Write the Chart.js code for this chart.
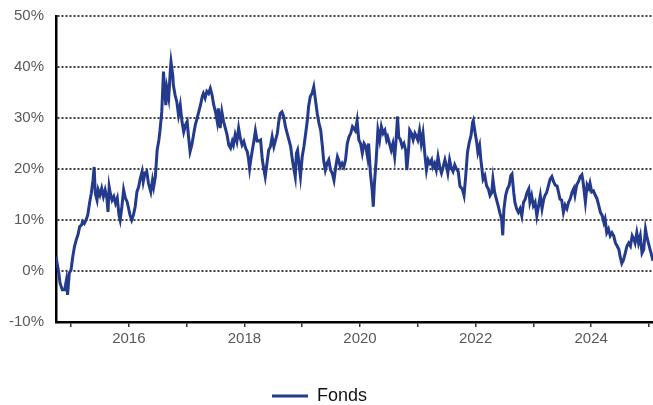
<!DOCTYPE html>
<html>
<head>
<meta charset="utf-8">
<script src="https://cdn.jsdelivr.net/npm/chart.js@4.4.1/dist/chart.umd.min.js"></script>
<style>
    html, body { margin: 0; padding: 0; background: #fff; }
    #wrap { width: 653px; height: 405px; position: relative; }
</style>
</head>
<body>
<div id="wrap"><canvas id="chart-fonds"></canvas></div>
<script>
// dates as decimal years, values in %
const dates = [
    2014.74, 2014.79, 2014.81, 2014.85, 2014.89, 2014.92, 2014.94, 2014.97, 2015.00, 2015.03,
    2015.06, 2015.09, 2015.12, 2015.15, 2015.18, 2015.20, 2015.23, 2015.26, 2015.29, 2015.32,
    2015.35, 2015.38, 2015.40, 2015.42, 2015.45, 2015.47, 2015.50, 2015.53, 2015.56, 2015.59,
    2015.62, 2015.64, 2015.66, 2015.68, 2015.71, 2015.74, 2015.77, 2015.80, 2015.83, 2015.85,
    2015.88, 2015.91, 2015.94, 2015.97, 2015.99, 2016.02, 2016.05, 2016.08, 2016.11, 2016.14,
    2016.17, 2016.20, 2016.23, 2016.25, 2016.28, 2016.31, 2016.34, 2016.38, 2016.41, 2016.43,
    2016.46, 2016.49, 2016.52, 2016.54, 2016.57, 2016.60, 2016.62, 2016.64, 2016.66, 2016.69,
    2016.72, 2016.73, 2016.76, 2016.77, 2016.80, 2016.83, 2016.86, 2016.89, 2016.92, 2016.95,
    2016.98, 2017.01, 2017.03, 2017.06, 2017.09, 2017.12, 2017.15, 2017.18, 2017.21, 2017.24,
    2017.27, 2017.29, 2017.32, 2017.35, 2017.38, 2017.41, 2017.44, 2017.47, 2017.50, 2017.53,
    2017.55, 2017.58, 2017.61, 2017.64, 2017.67, 2017.70, 2017.73, 2017.76, 2017.79, 2017.81,
    2017.84, 2017.87, 2017.90, 2017.93, 2017.96, 2017.99, 2018.02, 2018.05, 2018.07, 2018.09,
    2018.10, 2018.13, 2018.16, 2018.19, 2018.22, 2018.25, 2018.28, 2018.31, 2018.33, 2018.36,
    2018.39, 2018.42, 2018.45, 2018.48, 2018.51, 2018.54, 2018.57, 2018.59, 2018.62, 2018.65,
    2018.68, 2018.71, 2018.74, 2018.77, 2018.80, 2018.83, 2018.85, 2018.88, 2018.90, 2018.92,
    2018.95, 2018.97, 2019.00, 2019.03, 2019.06, 2019.09, 2019.11, 2019.14, 2019.17, 2019.20,
    2019.23, 2019.26, 2019.29, 2019.32, 2019.35, 2019.37, 2019.40, 2019.43, 2019.46, 2019.49,
    2019.52, 2019.55, 2019.58, 2019.61, 2019.63, 2019.66, 2019.69, 2019.72, 2019.75, 2019.78,
    2019.81, 2019.84, 2019.87, 2019.89, 2019.92, 2019.95, 2019.98, 2020.01, 2020.04, 2020.07,
    2020.10, 2020.13, 2020.15, 2020.18, 2020.21, 2020.23, 2020.25, 2020.28, 2020.31, 2020.34,
    2020.37, 2020.40, 2020.43, 2020.46, 2020.48, 2020.51, 2020.54, 2020.57, 2020.60, 2020.62,
    2020.65, 2020.67, 2020.70, 2020.73, 2020.76, 2020.79, 2020.81, 2020.84, 2020.86, 2020.89,
    2020.92, 2020.95, 2020.98, 2021.00, 2021.03, 2021.06, 2021.09, 2021.12, 2021.15, 2021.18,
    2021.21, 2021.24, 2021.26, 2021.29, 2021.32, 2021.35, 2021.38, 2021.41, 2021.44, 2021.47,
    2021.50, 2021.52, 2021.55, 2021.58, 2021.61, 2021.64, 2021.67, 2021.70, 2021.73, 2021.77,
    2021.80, 2021.83, 2021.86, 2021.89, 2021.92, 2021.95, 2021.96, 2021.99, 2022.02, 2022.04,
    2022.07, 2022.09, 2022.11, 2022.13, 2022.16, 2022.19, 2022.22, 2022.25, 2022.28, 2022.30,
    2022.33, 2022.36, 2022.39, 2022.42, 2022.45, 2022.47, 2022.49, 2022.52, 2022.55, 2022.58,
    2022.61, 2022.63, 2022.66, 2022.68, 2022.71, 2022.74, 2022.77, 2022.80, 2022.83, 2022.86,
    2022.89, 2022.92, 2022.94, 2022.97, 2023.00, 2023.03, 2023.06, 2023.09, 2023.12, 2023.15,
    2023.18, 2023.20, 2023.23, 2023.26, 2023.29, 2023.32, 2023.35, 2023.38, 2023.41, 2023.44,
    2023.46, 2023.49, 2023.52, 2023.55, 2023.58, 2023.61, 2023.64, 2023.67, 2023.70, 2023.72,
    2023.75, 2023.78, 2023.81, 2023.84, 2023.86, 2023.88, 2023.90, 2023.93, 2023.96, 2023.98,
    2024.01, 2024.04, 2024.07, 2024.10, 2024.13, 2024.16, 2024.19, 2024.22, 2024.24, 2024.27,
    2024.30, 2024.33, 2024.36, 2024.39, 2024.42, 2024.45, 2024.48, 2024.50, 2024.53, 2024.56,
    2024.59, 2024.62, 2024.65, 2024.68, 2024.71, 2024.74, 2024.76, 2024.79, 2024.82, 2024.85,
    2024.88, 2024.91, 2024.94, 2024.96, 2024.99, 2025.02, 2025.05, 2025.07
];
const fondsValues = [
    2.8, -0.5, -2.4, -3.7, -3.7, -1.8, -4.7, -0.4, 0.2, 2.8,
    4.8, 6.1, 7.1, 8.7, 9.0, 9.7, 9.3, 10.0, 11.0, 13.3,
    15.2, 17.8, 20.4, 15.2, 13.9, 15.9, 14.9, 16.2, 14.6, 15.9,
    14.3, 11.6, 16.5, 15.2, 13.9, 14.6, 13.3, 14.3, 11.0, 10.0,
    12.6, 15.9, 14.3, 13.6, 12.6, 11.0, 10.0, 11.0, 12.6, 15.5,
    16.5, 18.2, 19.5, 17.5, 19.2, 19.5, 17.2, 15.5, 17.8, 16.5,
    18.5, 23.7, 25.7, 27.6, 31.2, 39.1, 35.8, 32.5, 35.8, 33.9,
    39.7, 41.0, 38.4, 36.5, 34.5, 33.2, 30.6, 32.5, 29.3, 27.3,
    28.6, 29.3, 26.7, 23.4, 24.7, 26.7, 28.6, 29.9, 31.2, 32.5,
    34.2, 34.8, 33.9, 35.2, 34.8, 35.8, 34.5, 32.5, 31.2, 29.3,
    31.9, 28.0, 31.2, 29.3, 28.0, 26.7, 24.7, 24.1, 25.4, 24.7,
    26.7, 25.4, 28.0, 26.0, 24.7, 25.4, 24.1, 23.4, 22.1, 20.1,
    21.0, 23.2, 25.2, 27.5, 25.5, 25.5, 25.7, 21.8, 20.4, 18.5,
    21.1, 23.7, 24.4, 26.3, 24.4, 25.7, 27.0, 29.0, 30.9, 31.2,
    30.3, 28.3, 27.0, 25.7, 24.4, 21.8, 20.4, 18.5, 23.1, 23.7,
    20.4, 18.5, 22.4, 24.4, 27.0, 29.6, 32.2, 34.2, 34.8, 36.1,
    33.5, 30.9, 29.0, 27.6, 24.4, 21.8, 19.8, 21.1, 21.8, 19.8,
    19.2, 17.8, 20.4, 22.4, 21.8, 20.4, 21.1, 20.4, 21.8, 25.0,
    26.3, 27.0, 28.3, 28.0, 27.5, 29.5, 25.7, 25.0, 23.1, 25.0,
    24.4, 22.4, 25.0, 19.2, 15.9, 12.6, 17.2, 21.8, 27.6, 25.7,
    28.3, 27.0, 27.6, 25.7, 26.3, 25.0, 23.7, 25.0, 22.4, 25.0,
    30.3, 26.3, 25.7, 24.4, 25.0, 23.7, 19.8, 23.7, 27.6, 27.0,
    25.7, 27.0, 26.3, 25.7, 27.6, 25.0, 27.0, 23.1, 19.8, 21.8,
    21.1, 21.8, 20.4, 21.1, 19.8, 22.4, 20.4, 19.2, 20.4, 21.8,
    20.4, 19.2, 21.8, 20.2, 19.5, 20.8, 20.0, 19.5, 16.6, 16.1,
    14.8, 18.7, 23.3, 25.2, 26.5, 29.2, 29.5, 27.2, 25.2, 23.3,
    24.6, 22.0, 20.0, 18.0, 18.7, 16.7, 16.1, 14.8, 15.4, 18.0,
    15.4, 14.1, 12.8, 11.4, 10.2, 7.0, 12.1, 14.8, 16.1, 16.7,
    18.7, 19.0, 15.4, 13.5, 12.2, 11.5, 12.2, 10.8, 13.5, 14.1,
    15.4, 16.1, 13.5, 14.8, 12.8, 13.5, 10.8, 12.8, 14.8, 12.2,
    14.1, 14.8, 15.4, 16.7, 18.0, 18.5, 17.5, 16.8, 16.7, 15.2,
    14.1, 13.9, 11.5, 12.9, 12.2, 13.5, 14.2, 15.5, 16.2, 14.9,
    16.9, 17.5, 18.5, 18.9, 17.5, 15.5, 13.5, 16.9, 16.2, 17.2,
    15.5, 15.7, 14.9, 14.2, 12.9, 11.5, 10.9, 9.5, 10.2, 7.5,
    8.2, 6.9, 7.5, 6.9, 5.5, 4.9, 4.2, 2.9, 1.5, 2.2,
    3.5, 4.9, 5.5, 4.9, 6.9, 6.2, 5.5, 7.5, 5.5, 6.9,
    3.5, 4.2, 8.2, 6.9, 5.5, 4.2, 2.9, 2.0
];
const seriesName = "Fonds";
const xRange = [2014.74, 2025.07];
const yTicks = [-10, 0, 10, 20, 30, 40, 50];
const xLabelYears = [2016, 2018, 2020, 2022, 2024];

const points = dates.map((d, i) => ({ x: d, y: fondsValues[i] }));

// move the legend a bit, like in the original picture
const legendShift = {
    id: "legendShift",
    afterLayout(chart) {
        const lg = chart.legend;
        if (!lg) return;
        lg.left -= 7; lg.right -= 7;
        lg.top += 19; lg.bottom += 19;
    }
};

const ctx = document.getElementById("chart-fonds").getContext("2d");
const fondsChart = new Chart(ctx, {
    type: "line",
    data: {
        datasets: [{
            label: seriesName,
            data: points,
            borderColor: "#243a8c",
            backgroundColor: "#243a8c",
            borderWidth: 3,
            pointRadius: 0,
            tension: 0,
            fill: false
        }]
    },
    plugins: [legendShift],
    options: {
        responsive: true,
        maintainAspectRatio: false,
        animation: false,
        layout: {
            padding: { top: 16, right: 0, bottom: 9, left: 0 }
        },
        plugins: {
            legend: {
                display: true,
                position: "bottom",
                labels: {
                    usePointStyle: true,
                    pointStyle: "line",
                    pointStyleWidth: 36,
                    color: "#111",
                    padding: 10,
                    font: { family: "Liberation Sans", size: 18 }
                }
            },
            tooltip: { enabled: false }
        },
        scales: {
            x: {
                type: "linear",
                min: xRange[0],
                max: xRange[1],
                afterFit: function (scale) { scale.height = 36; },
                border: { display: true, color: "#000", width: 2.5 },
                grid: {
                    display: true,
                    drawOnChartArea: false,
                    drawTicks: true,
                    tickLength: 5,
                    color: "#333",
                    lineWidth: 1.5
                },
                ticks: {
                    stepSize: 1,
                    includeBounds: false,
                    autoSkip: false,
                    maxRotation: 0,
                    padding: 3,
                    color: "#595959",
                    font: { family: "Liberation Sans", size: 15 },
                    callback: function (value) {
                        return xLabelYears.includes(Math.round(value)) ? String(Math.round(value)) : "";
                    }
                }
            },
            y: {
                min: yTicks[0],
                max: yTicks[yTicks.length - 1],
                afterFit: function (scale) {
                    scale.width = 56;
                    scale.paddingTop = 0;
                    scale.paddingBottom = 0;
                },
                border: { display: true, color: "#000", width: 2.5, dash: [2, 2] },
                grid: {
                    drawTicks: false,
                    color: function (c) {
                        return c.tick && c.tick.value === yTicks[0] ? "rgba(0,0,0,0)" : "#3c3c3c";
                    },
                    lineWidth: 2
                },
                ticks: {
                    stepSize: 10,
                    padding: 12,
                    color: "#595959",
                    font: { family: "Liberation Sans", size: 15 },
                    callback: function (value) { return value + "%"; }
                }
            }
        }
    }
});
</script>
</body>
</html>
